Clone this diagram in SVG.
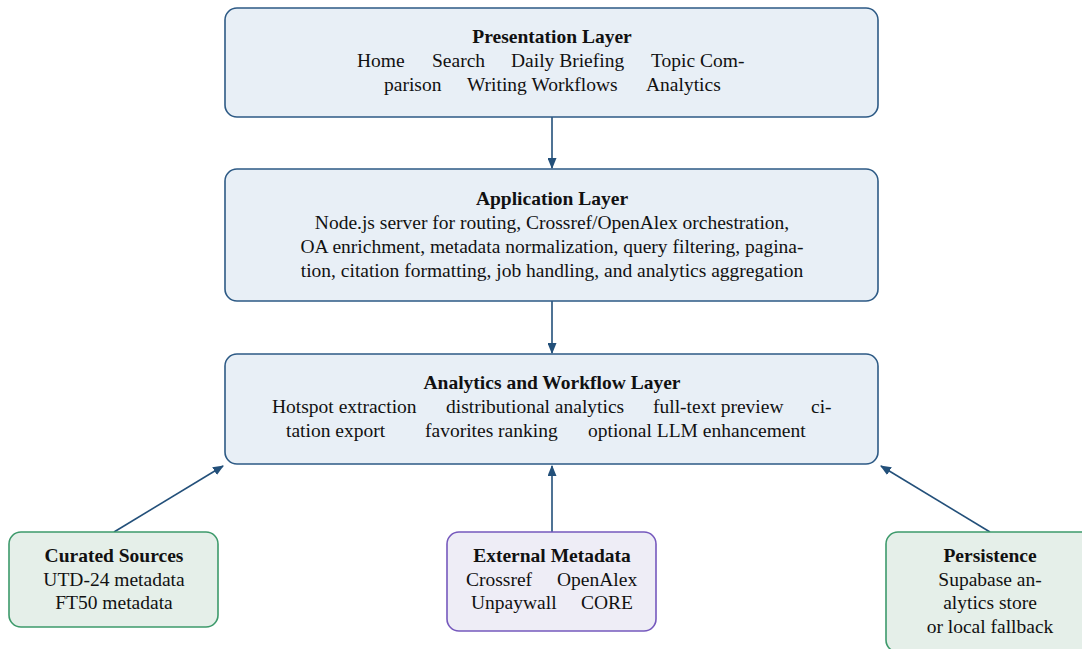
<svg xmlns="http://www.w3.org/2000/svg" width="1082" height="649" viewBox="0 0 1082 649">
<style>
text{font-family:"Liberation Serif","Times New Roman",serif;font-size:19.5px;fill:#111}
.t{font-weight:bold}
.m{text-anchor:middle}
.blue{fill:#e8eff6;stroke:#2d5a85;stroke-width:1.6}
.green{fill:#e5efe9;stroke:#3d9a6b;stroke-width:1.6}
.purple{fill:#eeedf6;stroke:#7659bd;stroke-width:1.6}
.conn{stroke:#23507a;stroke-width:1.6;fill:none;marker-end:url(#ah)}
</style>
<defs>
<marker id="ah" viewBox="0 0 10 10" refX="9" refY="5" markerWidth="11" markerHeight="9" markerUnits="userSpaceOnUse" orient="auto" preserveAspectRatio="none">
<path d="M0,0 L10,5 L0,10 Z" fill="#23507a"/>
</marker>
</defs>
<rect width="1082" height="649" fill="#fff"/>
<g id="connectors">
<line class="conn" x1="552" y1="117" x2="552" y2="168"/>
<line class="conn" x1="552" y1="301" x2="552" y2="353"/>
<line class="conn" x1="114" y1="532" x2="223" y2="466"/>
<line class="conn" x1="552" y1="532" x2="552" y2="466"/>
<line class="conn" x1="990" y1="532" x2="881" y2="466"/>
</g>
<g id="presentation">
<rect class="blue" x="225" y="8" width="653" height="109" rx="12"/>
<text class="t m" x="552" y="43">Presentation Layer</text>
<text x="357" y="67">Home</text>
<text x="432" y="67">Search</text>
<text x="511" y="67">Daily Briefing</text>
<text x="651" y="67">Topic Com-</text>
<text x="384" y="91">parison</text>
<text x="467" y="91">Writing Workflows</text>
<text x="646" y="91">Analytics</text>
</g>
<g id="application">
<rect class="blue" x="225" y="169" width="653" height="132" rx="12"/>
<text class="t m" x="552" y="205">Application Layer</text>
<text class="m" x="552" y="229">Node.js server for routing, Crossref/OpenAlex orchestration,</text>
<text class="m" x="552" y="253">OA enrichment, metadata normalization, query filtering, pagina-</text>
<text class="m" x="552" y="277">tion, citation formatting, job handling, and analytics aggregation</text>
</g>
<g id="analytics">
<rect class="blue" x="225" y="354" width="653" height="110" rx="12"/>
<text class="t m" x="552" y="389">Analytics and Workflow Layer</text>
<text x="272" y="413">Hotspot extraction</text>
<text x="446" y="413">distributional analytics</text>
<text x="653" y="413">full-text preview</text>
<text x="811" y="413">ci-</text>
<text x="286" y="437">tation export</text>
<text x="425" y="437">favorites ranking</text>
<text x="588" y="437">optional LLM enhancement</text>
</g>
<g id="curated">
<rect class="green" x="9" y="532" width="209" height="95" rx="12"/>
<text class="t m" x="114" y="562">Curated Sources</text>
<text class="m" x="114" y="586">UTD-24 metadata</text>
<text class="m" x="114" y="609">FT50 metadata</text>
</g>
<g id="external">
<rect class="purple" x="447" y="532" width="209" height="99" rx="12"/>
<text class="t m" x="552" y="562">External Metadata</text>
<text x="466" y="586">Crossref</text>
<text x="557" y="586">OpenAlex</text>
<text x="471" y="609">Unpaywall</text>
<text x="581" y="609">CORE</text>
</g>
<g id="persistence">
<rect class="green" x="886" y="532" width="210" height="120" rx="12"/>
<text class="t m" x="990" y="562">Persistence</text>
<text class="m" x="990" y="586">Supabase an-</text>
<text class="m" x="990" y="609">alytics store</text>
<text class="m" x="990" y="633">or local fallback</text>
</g>
</svg>
